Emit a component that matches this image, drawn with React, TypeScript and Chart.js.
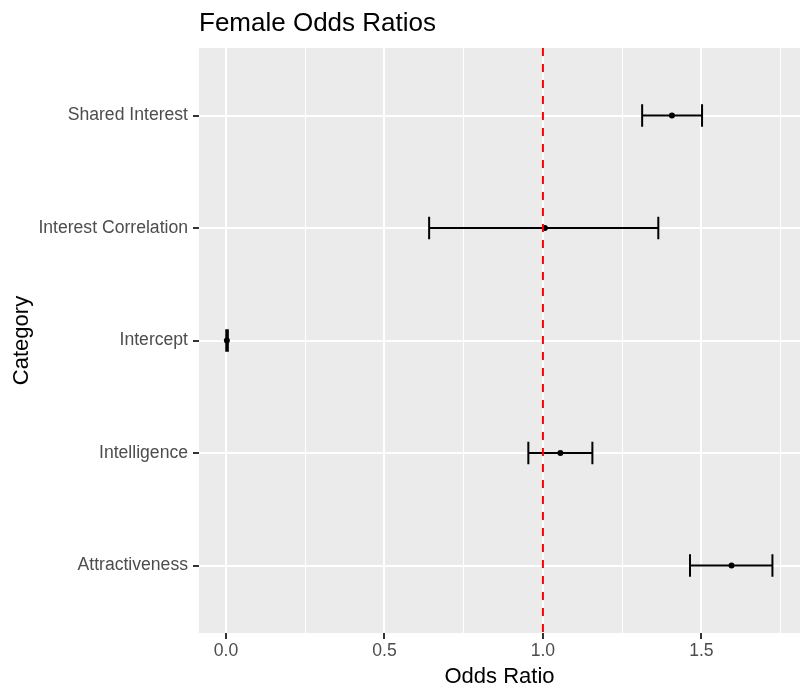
import React, { useEffect, useRef } from "react";
import { Chart, registerables } from "chart.js";

Chart.register(...registerables);

const categories = ["Shared Interest", "Interest Correlation", "Intercept", "Intelligence", "Attractiveness"];
const oddsRatios = [1.407, 1.006, 0.003, 1.055, 1.595];
const lowerCI = [1.313, 0.641, 0.001, 0.954, 1.464];
const upperCI = [1.502, 1.364, 0.006, 1.156, 1.724];
const xTickValues = [0, 0.25, 0.5, 0.75, 1, 1.25, 1.5, 1.75];
const xMajorTicks = [0, 0.5, 1, 1.5];
const referenceLine = 1;
const capHalfWidth = 0.1;

const FONT = "'Liberation Sans', Arial, Helvetica, sans-serif";

const panelBackground = {
  id: "panelBackground",
  beforeDraw(chart: any) {
    const { ctx, chartArea } = chart;
    ctx.save();
    ctx.fillStyle = "#EBEBEB";
    ctx.fillRect(chartArea.left, chartArea.top, chartArea.right - chartArea.left, chartArea.bottom - chartArea.top);
    ctx.restore();
  },
};

export default function App() {
  const ref = useRef<HTMLCanvasElement | null>(null);

  useEffect(() => {
    if (!ref.current) return;
    const yMin = 0.4;
    const yMax = categories.length + 0.6;

    const errorBarData: any[] = [];
    categories.forEach((_, i) => {
      const y = i + 1;
      errorBarData.push(
        { x: lowerCI[i], y: y - capHalfWidth },
        { x: lowerCI[i], y: y + capHalfWidth },
        { x: null, y: null },
        { x: lowerCI[i], y },
        { x: upperCI[i], y },
        { x: null, y: null },
        { x: upperCI[i], y: y - capHalfWidth },
        { x: upperCI[i], y: y + capHalfWidth },
        { x: null, y: null }
      );
    });

    const pointData = categories.map((_, i) => ({ x: oddsRatios[i], y: i + 1 }));

    const chart = new Chart(ref.current, {
      type: "scatter",
      data: {
        datasets: [
          {
            label: "ref",
            data: [
              { x: referenceLine, y: yMin },
              { x: referenceLine, y: yMax },
            ],
            showLine: true,
            borderColor: "#FF0000",
            borderWidth: 2,
            borderDash: [8, 8],
            borderCapStyle: "butt",
            pointRadius: 0,
            order: 0,
          } as any,
          {
            label: "points",
            data: pointData,
            showLine: false,
            backgroundColor: "#000000",
            borderWidth: 0,
            pointRadius: 3,
            order: 1,
          } as any,
          {
            label: "errorbars",
            data: errorBarData,
            showLine: true,
            spanGaps: false,
            borderColor: "#000000",
            borderWidth: 2,
            borderCapStyle: "butt",
            pointRadius: 0,
            order: 2,
          } as any,
        ],
      },
      options: {
        animation: false,
        responsive: false,
        devicePixelRatio: 1,
        layout: { padding: { top: 0, right: 11, bottom: 0, left: 0 } },
        plugins: {
          legend: { display: false },
          tooltip: { enabled: false },
          title: {
            display: true,
            text: "Female Odds Ratios",
            align: "start",
            fullSize: false,
            color: "#000000",
            font: { family: FONT, size: 26, weight: "normal" },
            padding: { top: 8.4, bottom: 8.4 },
          },
        },
        scales: {
          x: {
            type: "linear",
            min: -0.085,
            max: 1.811,
            afterBuildTicks: (scale: any) => {
              scale.ticks = xTickValues.map((v) => ({ value: v }));
            },
            afterFit: (scale: any) => {
              scale.height = 64;
            },
            ticks: {
              autoSkip: false,
              maxRotation: 0,
              padding: 2,
              color: "#4D4D4D",
              font: { family: FONT, size: 17.6 },
              callback: (v: any) => (xMajorTicks.includes(v) ? Number(v).toFixed(1) : ""),
            },
            grid: {
              color: "#FFFFFF",
              lineWidth: (ctx: any) => (xMajorTicks.includes(ctx.tick?.value) ? 2 : 1),
              tickColor: (ctx: any) => (xMajorTicks.includes(ctx.tick?.value) ? "#333333" : "rgba(0,0,0,0)"),
              tickWidth: 2,
              tickLength: 6,
            },
            border: { display: false },
            title: {
              display: true,
              text: "Odds Ratio",
              color: "#000000",
              font: { family: FONT, size: 22 },
              padding: { top: 0, bottom: 6.6 },
            },
          },
          y: {
            type: "linear",
            reverse: true,
            min: yMin,
            max: yMax,
            afterBuildTicks: (scale: any) => {
              scale.ticks = categories.map((_, i) => ({ value: i + 1 }));
            },
            afterFit: (scale: any) => {
              scale.width = 199;
            },
            ticks: {
              autoSkip: false,
              padding: 5,
              color: "#4D4D4D",
              font: { family: FONT, size: 17.6 },
              callback: (v: any) => categories[Math.round(Number(v)) - 1] ?? "",
            },
            grid: {
              color: "#FFFFFF",
              lineWidth: 2,
              tickColor: "#333333",
              tickWidth: 2,
              tickLength: 6,
            },
            border: { display: false },
            title: {
              display: true,
              text: "Category",
              color: "#000000",
              font: { family: FONT, size: 22 },
              padding: { top: 8.6, bottom: 0 },
            },
          },
        },
      },
      plugins: [panelBackground],
    } as any);

    return () => chart.destroy();
  }, []);

  return (
    <div style={{ position: "fixed", left: 0, top: 0, width: 811, height: 697, background: "#FFFFFF" }}>
      <canvas ref={ref} width={811} height={697} style={{ display: "block", width: 811, height: 697 }} />
    </div>
  );
}
